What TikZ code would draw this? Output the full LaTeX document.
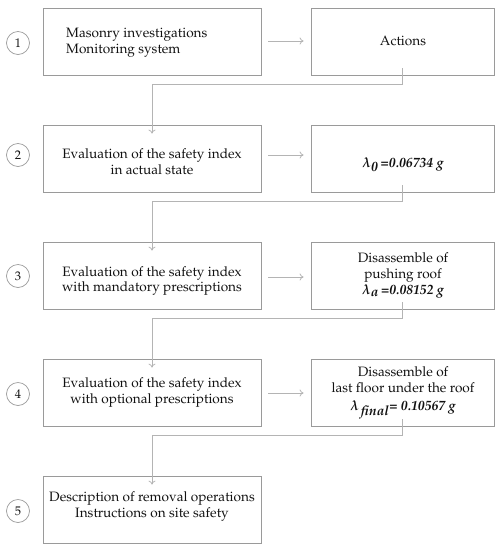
\documentclass[tikz,border=0pt]{standalone}
\usepackage[T1]{fontenc}
\usepackage{mathpazo}
\usetikzlibrary{arrows.meta}
\definecolor{boxgray}{HTML}{9A9A9A}
\definecolor{arrgray}{HTML}{B4B4B4}
\definecolor{txtcol}{HTML}{111111}
\begin{document}
\begin{tikzpicture}[x=1pt,y=-1pt,
  lbox/.style={draw=boxgray,line width=0.8pt,minimum width=218pt,minimum height=67pt,inner sep=0pt},
  rbox/.style={draw=boxgray,line width=0.8pt,minimum width=183pt,minimum height=67pt,inner sep=0pt},
  txt/.style={font=\fontsize{13.6}{15.8}\selectfont,text=txtcol,inner sep=0pt,align=center},
  num/.style={circle,draw=boxgray,line width=0.7pt,minimum size=23pt,inner sep=0pt,font=\fontsize{12.5}{14}\selectfont,text=txtcol},
  arr/.style={draw=arrgray,line width=0.8pt,-{To[length=4pt,width=7pt]}}
]
\useasboundingbox (0,0) rectangle (502,550);
% boxes
\node[lbox] (l1) at (152,41.5) {};
\node[rbox] (r1) at (402.5,41.5) {};
\node[lbox] (l2) at (152,158.5) {};
\node[rbox] (r2) at (402.5,158.5) {};
\node[lbox] (l3) at (152,275.5) {};
\node[rbox] (r3) at (402.5,275.5) {};
\node[lbox] (l4) at (152,392.5) {};
\node[rbox] (r4) at (402.5,392.5) {};
\node[lbox] (l5) at (152,509.5) {};
% numbers
\node[num] (c1) at (18,43) {1};
\node[num] (c2) at (18,155) {2};
\node[num] (c3) at (18,276) {3};
\node[num] (c4) at (18,394) {4};
\node[num] (c5) at (18,511) {5};
% texts
\node[txt,align=left,anchor=west] (t1) at (66,43) {Masonry investigations\\Monitoring system};
\node[txt] (u1) at (403,41) {Actions};
\node[txt] (t2) at (152,162) {Evaluation of the safety index\\in actual state};
\node[txt] (u2) at (403,165) {\textbf{\textit{\boldmath$\lambda_{\textit{0}}$\,=0.06734 g}}};
\node[txt] (t3) at (152,281) {Evaluation of the safety index\\with mandatory prescriptions};
\node[txt] (u3) at (403,275.5) {Disassemble of\\pushing roof\\\textbf{\textit{\boldmath$\lambda_{\textit{a}}$\,=0.08152 g}}};
\node[txt] (t4) at (152,392.5) {Evaluation of the safety index\\with optional prescriptions};
\node[txt] (u4) at (403,393) {Disassemble of\\last floor under the roof\\[3pt]\textbf{\textit{\boldmath$\lambda_{\,\textit{final}}$= 0.10567 g}}};
\node[txt] (t5) at (152,506.5) {Description of removal operations\\Instructions on site safety};
% horizontal arrows
\draw[arr] ([xshift=7pt]l1.east |- 0,41) -- ([xshift=-7pt]r1.west |- 0,41);
\draw[arr] ([xshift=7pt]l2.east |- 0,155) -- ([xshift=-7pt]r2.west |- 0,155);
\draw[arr] ([xshift=7pt]l3.east |- 0,277) -- ([xshift=-7pt]r3.west |- 0,277);
\draw[arr] ([xshift=7pt]l4.east |- 0,393) -- ([xshift=-7pt]r4.west |- 0,393);
% elbow connectors
\draw[arr] ([yshift=7pt]r1.south) -- ++(0,16) -| ([yshift=-9pt]l2.north);
\draw[arr] ([yshift=7pt]r2.south) -- ++(0,16) -| ([yshift=-9pt]l3.north);
\draw[arr] ([yshift=7pt]r3.south) -- ++(0,16) -| ([yshift=-9pt]l4.north);
\draw[arr] ([yshift=7pt]r4.south) -- ++(0,16) -| ([yshift=-9pt]l5.north);
\end{tikzpicture}
\end{document}
